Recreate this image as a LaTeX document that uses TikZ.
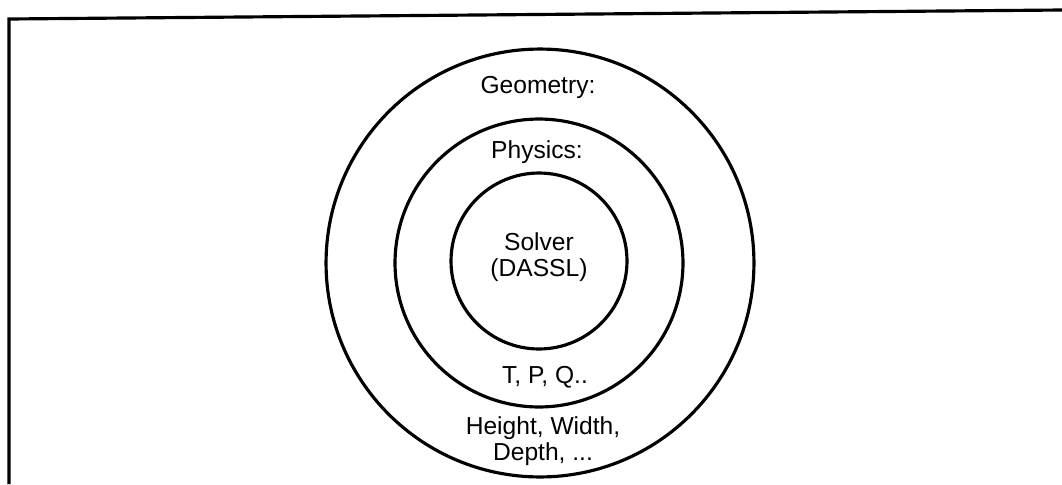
\documentclass[tikz,border=0pt]{standalone}
\usepackage{fontspec}
\setmainfont{Liberation Sans}

\begin{document}
\begin{tikzpicture}[x=0.02cm,y=-0.02cm,
  ring/.style={draw,circle,line width=1.8pt,inner sep=0pt},
  lbl/.style={font=\fontsize{14}{15}\selectfont,align=center,inner sep=0pt}]
  \useasboundingbox (0,0) rectangle (1062,484);
  % frame
  \coordinate (fbl) at (9,484); \coordinate (ftl) at (9,19); \coordinate (ftr) at (1062,10);
  \draw[line width=1.8pt] (fbl) -- (ftl) -- (ftr);
  % rings
  \node[ring,minimum size=8.56cm] (geom) at (540,263) {};
  \node[ring,minimum size=5.76cm] (phys) at (539,263) {};
  \node[ring,minimum size=3.52cm] (solv) at (539,261) {};
  % labels
  \node[lbl] (geomtop) at (538,87) {Geometry:};
  \node[lbl] (geombot) at (543,441) {Height, Width,\\Depth, ...};
  \node[lbl] (phystop) at (537,152) {Physics:};
  \node[lbl] (physbot) at (545,377) {T, P, Q..};
  \node[lbl] (solvlbl) at (539,257) {Solver\\(DASSL)};
\end{tikzpicture}
\end{document}
